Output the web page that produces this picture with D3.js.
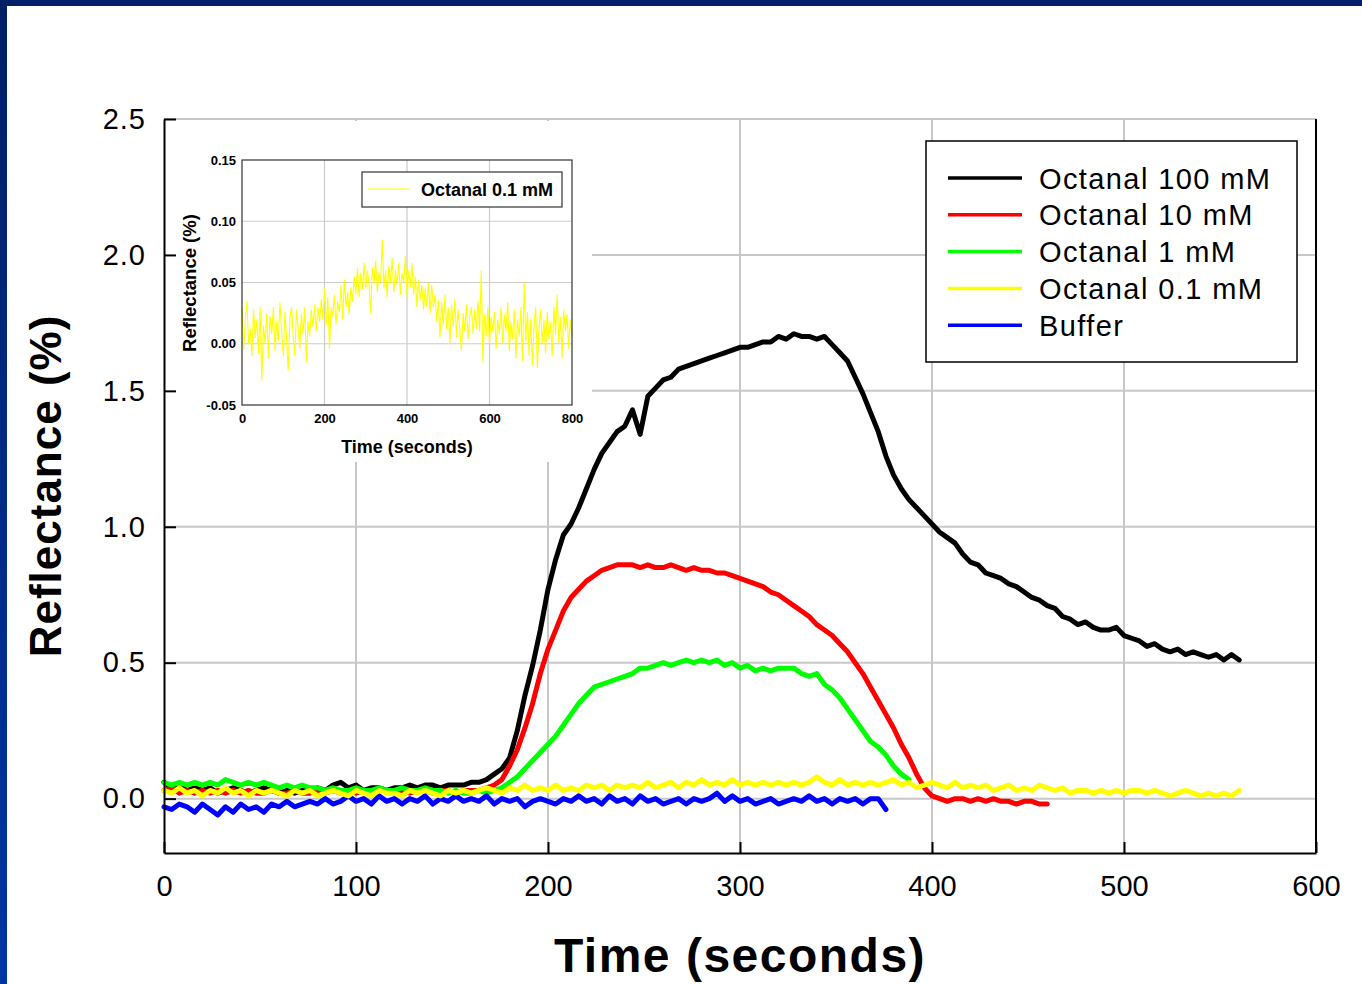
<!DOCTYPE html>
<html lang="en">
<head>
<meta charset="UTF-8">
<title>Octanal reflectance</title>
<script src="https://cdn.jsdelivr.net/npm/d3@7"></script>
<style>
  body { margin: 0; background: #fff; }
  svg { display: block; font-family: "Liberation Sans", Arial, sans-serif; }
</style>
</head>
<body>
<svg></svg>
<script>
const width = 1362, height = 984;

// recorder sampling step, seconds
const step = 4;

const xTicks = [0, 100, 200, 300, 400, 500, 600];
const yTicks = [0, 0.5, 1.0, 1.5, 2.0, 2.5];
const insetXTicks = [0, 200, 400, 600, 800];
const insetYTicks = [-0.05, 0, 0.05, 0.10, 0.15];

const seriesNames = ['Octanal 100 mM', 'Octanal 10 mM', 'Octanal 1 mM', 'Octanal 0.1 mM', 'Buffer'];
const seriesColors = ['#000000', '#ff0000', '#00ff00', '#ffff00', '#0000ff'];

// reflectance (%) every 4 s
const octanal100 = [
  0.06, 0.04, 0.05, 0.03, 0.04, 0.03, 0.04, 0.02, 0.03, 0.04, 0.03, 0.02, 0.03, 0.04, 0.03, 0.02,
  0.03, 0.02, 0.03, 0.03, 0.04, 0.03, 0.05, 0.06, 0.04, 0.05, 0.03, 0.04, 0.04, 0.03, 0.04, 0.04,
  0.05, 0.04, 0.05, 0.05, 0.04, 0.05, 0.05, 0.05, 0.06, 0.06, 0.07, 0.09, 0.11, 0.15, 0.25, 0.38,
  0.49, 0.62, 0.77, 0.88, 0.97, 1.01, 1.07, 1.14, 1.21, 1.27, 1.31, 1.35, 1.37, 1.43, 1.34, 1.48,
  1.51, 1.54, 1.55, 1.58, 1.59, 1.60, 1.61, 1.62, 1.63, 1.64, 1.65, 1.66, 1.66, 1.67, 1.68, 1.68,
  1.70, 1.69, 1.71, 1.70, 1.70, 1.69, 1.70, 1.67, 1.64, 1.61, 1.55, 1.49, 1.42, 1.35, 1.26, 1.19,
  1.14, 1.10, 1.07, 1.04, 1.01, 0.98, 0.96, 0.94, 0.90, 0.87, 0.86, 0.83, 0.82, 0.81, 0.79, 0.78,
  0.76, 0.74, 0.73, 0.71, 0.70, 0.67, 0.66, 0.64, 0.65, 0.63, 0.62, 0.62, 0.63, 0.60, 0.59, 0.58,
  0.56, 0.57, 0.55, 0.54, 0.55, 0.53, 0.54, 0.53, 0.52, 0.53, 0.51, 0.53, 0.51
];
const octanal10 = [
  0.03, 0.04, 0.02, 0.03, 0.02, 0.03, 0.02, 0.03, 0.02, 0.03, 0.02, 0.03, 0.02, 0.02, 0.03, 0.02,
  0.02, 0.03, 0.02, 0.02, 0.03, 0.02, 0.03, 0.02, 0.03, 0.02, 0.03, 0.02, 0.03, 0.03, 0.02, 0.03,
  0.02, 0.03, 0.03, 0.02, 0.03, 0.03, 0.02, 0.03, 0.03, 0.03, 0.04, 0.05, 0.07, 0.12, 0.18, 0.26,
  0.35, 0.46, 0.55, 0.62, 0.69, 0.74, 0.77, 0.80, 0.82, 0.84, 0.85, 0.86, 0.86, 0.86, 0.85, 0.86,
  0.85, 0.85, 0.86, 0.85, 0.84, 0.85, 0.84, 0.84, 0.83, 0.83, 0.82, 0.81, 0.80, 0.79, 0.78, 0.76,
  0.75, 0.73, 0.71, 0.69, 0.67, 0.64, 0.62, 0.60, 0.57, 0.54, 0.50, 0.46, 0.41, 0.36, 0.31, 0.26,
  0.20, 0.15, 0.09, 0.04, 0.01, 0.00, -0.01, 0.00, 0.00, -0.01, 0.00, -0.01, 0.00, -0.01, -0.01, -0.02,
  -0.01, -0.01, -0.02, -0.02
];
const octanal1 = [
  0.06, 0.05, 0.06, 0.05, 0.06, 0.05, 0.06, 0.05, 0.07, 0.06, 0.05, 0.06, 0.05, 0.06, 0.05, 0.04,
  0.05, 0.04, 0.05, 0.04, 0.04, 0.03, 0.04, 0.03, 0.03, 0.04, 0.03, 0.03, 0.04, 0.03, 0.03, 0.04,
  0.03, 0.03, 0.04, 0.03, 0.03, 0.02, 0.03, 0.02, 0.02, 0.03, 0.02, 0.03, 0.04, 0.06, 0.08, 0.11,
  0.14, 0.17, 0.20, 0.23, 0.27, 0.31, 0.35, 0.38, 0.41, 0.42, 0.43, 0.44, 0.45, 0.46, 0.48, 0.48,
  0.49, 0.50, 0.49, 0.50, 0.51, 0.50, 0.51, 0.50, 0.51, 0.49, 0.50, 0.48, 0.49, 0.47, 0.48, 0.47,
  0.48, 0.48, 0.48, 0.46, 0.45, 0.46, 0.42, 0.40, 0.37, 0.33, 0.29, 0.25, 0.21, 0.19, 0.16, 0.12,
  0.09, 0.07
];
const octanal01 = [
  0.03, 0.02, 0.04, 0.02, 0.03, 0.01, 0.03, 0.02, 0.04, 0.02, 0.03, 0.01, 0.03, 0.02, 0.03, 0.02,
  0.01, 0.03, 0.02, 0.03, 0.01, 0.02, 0.03, 0.02, 0.01, 0.03, 0.02, 0.01, 0.03, 0.02, 0.02, 0.01,
  0.03, 0.02, 0.03, 0.02, 0.01, 0.03, 0.02, 0.03, 0.02, 0.03, 0.04, 0.03, 0.02, 0.04, 0.03, 0.05,
  0.03, 0.04, 0.03, 0.05, 0.03, 0.04, 0.03, 0.05, 0.04, 0.05, 0.03, 0.05, 0.04, 0.05, 0.04, 0.06,
  0.04, 0.05, 0.06, 0.04, 0.06, 0.05, 0.07, 0.05, 0.06, 0.05, 0.07, 0.05, 0.06, 0.05, 0.06, 0.05,
  0.06, 0.05, 0.06, 0.05, 0.06, 0.08, 0.06, 0.05, 0.07, 0.05, 0.06, 0.05, 0.06, 0.05, 0.06, 0.07,
  0.05, 0.06, 0.04, 0.05, 0.06, 0.05, 0.04, 0.06, 0.04, 0.05, 0.04, 0.05, 0.03, 0.04, 0.05, 0.03,
  0.04, 0.03, 0.05, 0.04, 0.03, 0.04, 0.02, 0.03, 0.03, 0.02, 0.03, 0.02, 0.03, 0.02, 0.03, 0.03,
  0.02, 0.03, 0.02, 0.01, 0.02, 0.03, 0.02, 0.01, 0.02, 0.01, 0.02, 0.01, 0.03
];
const buffer = [
  -0.03, -0.04, -0.02, -0.03, -0.05, -0.02, -0.04, -0.06, -0.03, -0.05, -0.02, -0.04, -0.03, -0.05, -0.02, -0.03,
  -0.01, -0.03, -0.02, -0.01, -0.02, 0.00, -0.02, -0.01, 0.01, -0.01, 0.00, -0.02, 0.01, -0.01, 0.00, -0.02,
  0.00, -0.01, 0.01, -0.02, 0.00, -0.01, 0.01, -0.01, 0.00, -0.01, 0.01, -0.02, 0.00, -0.01, 0.00, -0.03,
  -0.01, 0.00, -0.01, -0.02, 0.00, -0.01, 0.01, -0.01, 0.00, -0.02, 0.01, -0.01, 0.00, -0.02, 0.01, -0.01,
  0.00, -0.02, -0.01, 0.00, -0.02, 0.00, -0.01, 0.00, 0.02, -0.01, 0.01, -0.01, 0.00, -0.02, -0.01, 0.00,
  -0.02, -0.01, 0.00, -0.01, 0.01, -0.01, 0.00, -0.02, 0.00, -0.01, 0.00, -0.02, 0.00, 0.00, -0.04
];
const seriesValues = [octanal100, octanal10, octanal1, octanal01, buffer];

// inset: Octanal 0.1 mM over 800 s, every 4 s
const insetName = 'Octanal 0.1 mM';
const insetValues = [
  0.030, -0.005, 0.020, 0.035, 0.000, 0.012, -0.010, 0.028, 0.005, 0.020, -0.008, 0.030, -0.030, 0.015, 0.000, 0.025,
  -0.012, 0.022, 0.008, 0.030, -0.006, 0.018, 0.002, 0.034, 0.010, -0.010, 0.026, 0.004, -0.022, 0.020, 0.030, 0.006,
  -0.010, 0.028, 0.012, -0.004, 0.024, 0.008, 0.030, -0.015, 0.018, 0.006, 0.028, 0.014, 0.032, 0.010, 0.030, 0.018,
  0.036, 0.020, 0.045, 0.015, 0.038, -0.004, 0.030, 0.022, 0.040, 0.016, 0.034, 0.026, 0.048, 0.020, 0.052, 0.030,
  0.042, 0.024, 0.046, 0.035, 0.055, 0.040, 0.062, 0.038, 0.058, 0.044, 0.066, 0.045, 0.060, 0.048, 0.025, 0.062,
  0.050, 0.068, 0.042, 0.058, 0.050, 0.085, 0.045, 0.060, 0.038, 0.064, 0.050, 0.070, 0.042, 0.060, 0.048, 0.066,
  0.040, 0.058, 0.050, 0.072, 0.038, 0.060, 0.046, 0.066, 0.040, 0.055, 0.030, 0.052, 0.036, 0.048, 0.028, 0.045,
  0.030, 0.050, 0.025, 0.048, 0.030, 0.040, 0.018, 0.036, 0.005, 0.034, 0.015, 0.040, 0.012, 0.030, 0.000, 0.032,
  0.014, 0.036, 0.005, 0.028, 0.012, -0.006, 0.025, 0.010, 0.032, 0.004, 0.022, 0.030, 0.008, 0.028, 0.012, 0.035,
  0.010, 0.060, -0.015, 0.024, 0.006, 0.030, 0.000, 0.022, 0.010, 0.026, -0.004, 0.020, 0.008, 0.030, 0.000, 0.024,
  0.010, 0.034, -0.006, 0.018, 0.004, 0.028, -0.012, 0.020, 0.006, 0.030, -0.014, 0.050, 0.002, 0.026, -0.010, 0.020,
  -0.018, 0.015, 0.030, -0.020, 0.012, 0.028, 0.000, 0.020, -0.008, 0.026, 0.004, 0.018, -0.010, 0.030, 0.008, 0.040,
  0.000, 0.022, -0.012, 0.028, 0.010, 0.024, -0.004, 0.020, 0.006
];

const svg = d3.select('svg').attr('width', width).attr('height', height);

// slide frame: navy bands on top and left
const grad = svg.append('defs').append('linearGradient')
  .attr('id', 'band').attr('x1', 0).attr('y1', 0).attr('x2', 0).attr('y2', 1);
grad.append('stop').attr('offset', '0%').attr('stop-color', '#001f66');
grad.append('stop').attr('offset', '100%').attr('stop-color', '#0035a3');
svg.append('rect').attr('width', width).attr('height', height).attr('fill', '#fff');
svg.append('rect').attr('width', width).attr('height', 6).attr('fill', '#00206a');
svg.append('rect').attr('width', 7).attr('height', height).attr('fill', 'url(#band)');

/************ main chart ************/
const x = d3.scaleLinear().domain([0, 600]).range([164, 1316]);
const y = d3.scaleLinear().domain([-0.2, 2.5]).range([853, 119]);

const grid = svg.append('g').attr('stroke', '#c8c8c8').attr('stroke-width', 2);
grid.selectAll('.gx').data(xTicks.slice(1)).join('line')
  .attr('x1', d => x(d)).attr('x2', d => x(d)).attr('y1', y(2.5)).attr('y2', y(-0.2));
grid.selectAll('.gy').data(yTicks).join('line')
  .attr('x1', x(0)).attr('x2', x(600)).attr('y1', d => y(d)).attr('y2', d => y(d));

const line = d3.line().x((d, i) => x(i * step)).y(d => y(d));
// draw order keeps yellow and blue on top, like the original
[0, 1, 2, 4, 3].forEach(k => {
  svg.append('path')
    .attr('d', line(seriesValues[k]))
    .attr('fill', 'none')
    .attr('stroke', seriesColors[k])
    .attr('stroke-width', 5)
    .attr('stroke-linejoin', 'round')
    .attr('stroke-linecap', 'round');
});

// white panel behind the inset
svg.append('rect').attr('x', 166).attr('y', 121).attr('width', 426).attr('height', 341).attr('fill', '#fff');

const xAxis = svg.append('g')
  .attr('transform', `translate(0,${y(-0.2)})`)
  .call(d3.axisBottom(x).tickValues(xTicks).tickSizeInner(-11).tickSizeOuter(0).tickPadding(22));
const yAxis = svg.append('g')
  .attr('transform', `translate(${x(0)},0)`)
  .call(d3.axisLeft(y).tickValues(yTicks).tickFormat(d => d.toFixed(1)).tickSizeInner(-12).tickSizeOuter(0).tickPadding(18));
[xAxis, yAxis].forEach(a => {
  a.select('.domain').attr('stroke', '#000').attr('stroke-width', 2);
  a.selectAll('.tick line').attr('stroke', '#000').attr('stroke-width', 2);
  a.selectAll('.tick text').attr('font-size', 29).attr('fill', '#000')
    .attr('font-family', '"Liberation Sans", Arial, sans-serif');
});
yAxis.selectAll('.tick text').attr('letter-spacing', 1);
svg.append('line')
  .attr('x1', x(600)).attr('x2', x(600)).attr('y1', y(2.5)).attr('y2', y(-0.2))
  .attr('stroke', '#000').attr('stroke-width', 2);

svg.append('text')
  .attr('x', 740).attr('y', 972)
  .attr('text-anchor', 'middle')
  .attr('font-size', 48).attr('font-weight', 'bold').attr('letter-spacing', 1.5)
  .text('Time (seconds)');
svg.append('text')
  .attr('transform', 'translate(61,486) rotate(-90)')
  .attr('text-anchor', 'middle')
  .attr('font-size', 44).attr('font-weight', 'bold').attr('letter-spacing', 1)
  .text('Reflectance (%)');

// legend
const legend = svg.append('g');
legend.append('rect')
  .attr('x', 926).attr('y', 141).attr('width', 371).attr('height', 221)
  .attr('fill', '#fff').attr('stroke', '#000').attr('stroke-width', 1.5);
const rows = legend.selectAll('.row').data(seriesNames).join('g')
  .attr('transform', (d, i) => `translate(0,${178 + i * 36.8})`);
rows.append('line')
  .attr('x1', 948).attr('x2', 1022)
  .attr('stroke', (d, i) => seriesColors[i]).attr('stroke-width', 3.5);
rows.append('text')
  .attr('x', 1039).attr('y', 10.5)
  .attr('font-size', 29).attr('letter-spacing', 1.4)
  .text(d => d);

/************ inset ************/
const ix = d3.scaleLinear().domain([0, 800]).range([242, 572]);
const iy = d3.scaleLinear().domain([-0.05, 0.15]).range([405, 160]);
const inset = svg.append('g');

inset.append('g').attr('stroke', '#cccccc').attr('stroke-width', 1.2)
  .call(g => g.selectAll('.vx').data(insetXTicks.slice(1, -1)).join('line')
    .attr('x1', d => ix(d)).attr('x2', d => ix(d)).attr('y1', iy(0.15)).attr('y2', iy(-0.05)))
  .call(g => g.selectAll('.hy').data(insetYTicks.slice(1, -1)).join('line')
    .attr('x1', ix(0)).attr('x2', ix(800)).attr('y1', d => iy(d)).attr('y2', d => iy(d)));

inset.append('path')
  .attr('d', d3.line().x((d, i) => ix(i * step)).y(d => iy(d))(insetValues))
  .attr('fill', 'none').attr('stroke', '#ffff00').attr('stroke-width', 1.1);

inset.append('rect')
  .attr('x', ix(0)).attr('y', iy(0.15)).attr('width', ix(800) - ix(0)).attr('height', iy(-0.05) - iy(0.15))
  .attr('fill', 'none').attr('stroke', '#333').attr('stroke-width', 1.2);

const ixAxis = inset.append('g')
  .attr('transform', `translate(0,${iy(-0.05)})`)
  .call(d3.axisBottom(ix).tickValues(insetXTicks).tickSize(0).tickPadding(9));
const iyAxis = inset.append('g')
  .attr('transform', `translate(${ix(0)},0)`)
  .call(d3.axisLeft(iy).tickValues(insetYTicks).tickFormat(d => d.toFixed(2)).tickSize(0).tickPadding(6));
[ixAxis, iyAxis].forEach(a => {
  a.select('.domain').remove();
  a.selectAll('.tick text').attr('font-size', 13).attr('font-weight', 'bold').attr('fill', '#000')
    .attr('font-family', '"Liberation Sans", Arial, sans-serif');
});

inset.append('text')
  .attr('x', 407).attr('y', 453)
  .attr('text-anchor', 'middle')
  .attr('font-size', 18).attr('font-weight', 'bold')
  .text('Time (seconds)');
inset.append('text')
  .attr('transform', 'translate(196,283) rotate(-90)')
  .attr('text-anchor', 'middle')
  .attr('font-size', 18.5).attr('font-weight', 'bold')
  .text('Reflectance (%)');

inset.append('rect')
  .attr('x', 362).attr('y', 172).attr('width', 200).attr('height', 35)
  .attr('fill', '#fff').attr('stroke', '#333').attr('stroke-width', 1.2);
inset.append('line')
  .attr('x1', 368).attr('x2', 410).attr('y1', 189).attr('y2', 189)
  .attr('stroke', '#ffff00').attr('stroke-width', 1);
inset.append('text')
  .attr('x', 421).attr('y', 196)
  .attr('font-size', 18).attr('font-weight', 'bold')
  .text(insetName);
</script>
</body>
</html>
